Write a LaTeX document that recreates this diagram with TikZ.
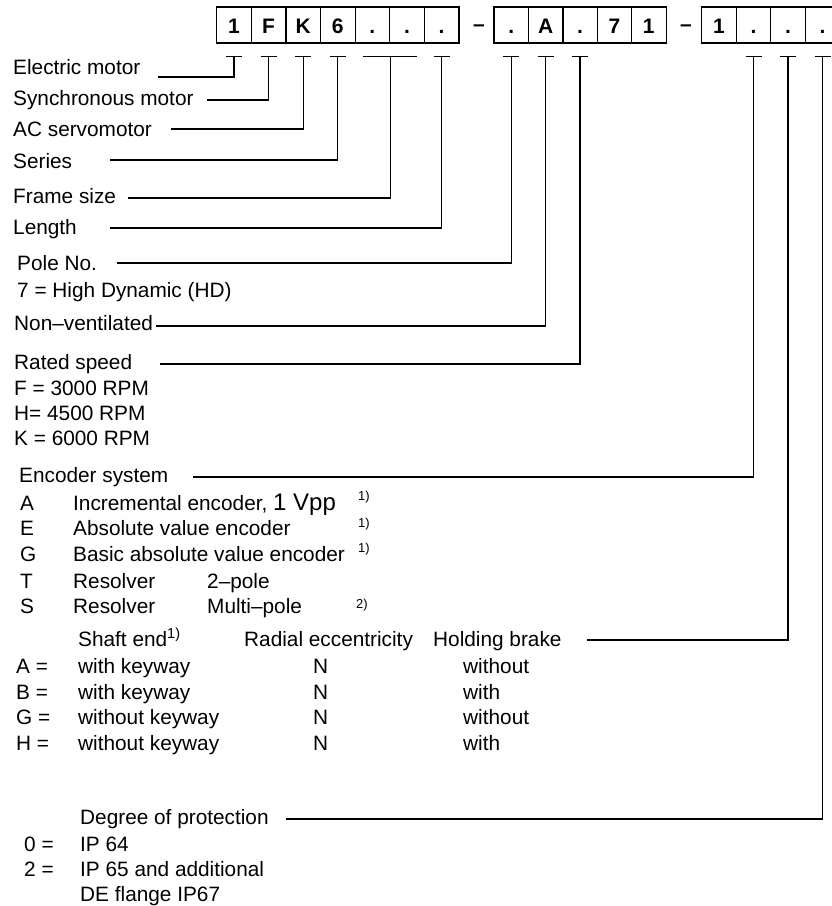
\documentclass[tikz,border=0pt]{standalone}
\usepackage{fontspec}
\setmainfont{Liberation Sans}
\usetikzlibrary{arrows.meta}
\tikzset{
  lbl/.style={anchor=base west,inner sep=0pt,font=\fontsize{20.8pt}{24pt}\selectfont},
  fnote/.style={anchor=base west,inner sep=0pt,font=\fontsize{13pt}{14pt}\selectfont},
  digit/.style={draw,line width=1.2pt,minimum width=34.6pt,minimum height=36pt,inner sep=0pt,
    text height=16pt,text depth=0pt,font=\fontsize{21pt}{24pt}\selectfont\bfseries},
  sepdash/.style={inner sep=0pt,font=\fontsize{21pt}{24pt}\selectfont\bfseries},
  lead/.style={line width=1.2pt,-{Bar[width=16pt]}},
}
\begin{document}
\begin{tikzpicture}[x=1pt,y=-1pt]
\useasboundingbox (0,0) rectangle (832,906);
\clip (0,0) rectangle (832,906);
% 型号方框, 第一组
\node[digit] (a1) at (234,25) {1};
\node[digit] (a2) at (268.6,25) {F};
\node[digit] (a3) at (303.2,25) {K};
\node[digit] (a4) at (337.8,25) {6};
\node[digit] (a5) at (372.4,25) {.};
\node[digit] (a6) at (407,25) {.};
\node[digit] (a7) at (441.6,25) {.};
\node[sepdash] (d1) at (479,28) {--};
% 第二组
\node[digit] (b1) at (511.2,25) {.};
\node[digit] (b2) at (545.6,25) {A};
\node[digit] (b3) at (580,25) {.};
\node[digit] (b4) at (614.4,25) {7};
\node[digit] (b5) at (648.8,25) {1};
\node[sepdash] (d2) at (686,28) {--};
% 第三组,最后一个被裁掉
\node[digit] (c1) at (719,25) {1};
\node[digit] (c2) at (753.5,25) {.};
\node[digit] (c3) at (788,25) {.};
\node[digit] (c4) at (822.5,25) {.};

% 左边的说明文字
\node[lbl] (em) at (13,74) {Electric motor};
\node[lbl] (sm) at (13,105) {Synchronous motor};
\node[lbl] (acs) at (13,136) {AC servomotor};
\node[lbl] (ser) at (13,168) {Series};
\node[lbl] (fsz) at (13,203) {Frame size};
\node[lbl] (len) at (13,234) {Length};
\node[lbl] (pole) at (17,270) {Pole No.};
\node[lbl] (hd) at (17,297) {7 = High Dynamic (HD)};
\node[lbl] (nv) at (14,330) {Non--ventilated};
\node[lbl] (rs) at (14,369) {Rated speed};
\node[lbl] (rsf) at (14,395) {F = 3000 RPM};
\node[lbl] (rsh) at (14,420) {H= 4500 RPM};
\node[lbl] (rsk) at (14,445) {K = 6000 RPM};

% 编码器
\node[lbl] (enc) at (19,482) {Encoder system};
\node[lbl] (encak) at (20,510) {A};
\node[lbl] (encat) at (73,510) {Incremental encoder, {\fontsize{24pt}{24pt}\selectfont 1 Vpp}};
\node[lbl] (encek) at (20,535) {E};
\node[lbl] (encet) at (73,535) {Absolute value encoder};
\node[lbl] (encgk) at (20,561) {G};
\node[lbl] (encgt) at (73,561) {Basic absolute value encoder};
\node[lbl] (enctk) at (20,588) {T};
\node[lbl] (enctt) at (73,588) {Resolver};
\node[lbl] (enctp) at (207,588) {2--pole};
\node[lbl] (encsk) at (20,613) {S};
\node[lbl] (encst) at (73,613) {Resolver};
\node[lbl] (encsp) at (207,613) {Multi--pole};
\node[fnote] (fna) at (358,500) {1)};
\node[fnote] (fne) at (358,527) {1)};
\node[fnote] (fng) at (358,552) {1)};
\node[fnote] (fns) at (356,608) {2)};

% 轴端和抱闸
\node[lbl] (sh) at (78,646) {Shaft end\textsuperscript{1)}};
\node[lbl] (rad) at (244,646) {Radial eccentricity};
\node[lbl] (hb) at (433,646) {Holding brake};
\node[lbl] (sha) at (16,673) {A =};
\node[lbl] (shat) at (78,673) {with keyway};
\node[lbl] (shan) at (313,673) {N};
\node[lbl] (shab) at (463,673) {without};
\node[lbl] (shb) at (16,699) {B =};
\node[lbl] (shbt) at (78,699) {with keyway};
\node[lbl] (shbn) at (313,699) {N};
\node[lbl] (shbb) at (463,699) {with};
\node[lbl] (shg) at (16,724) {G =};
\node[lbl] (shgt) at (78,724) {without keyway};
\node[lbl] (shgn) at (313,724) {N};
\node[lbl] (shgb) at (463,724) {without};
\node[lbl] (shh) at (16,750) {H =};
\node[lbl] (shht) at (78,750) {without keyway};
\node[lbl] (shhn) at (313,750) {N};
\node[lbl] (shhb) at (463,750) {with};

% 防护等级
\node[lbl] (dp) at (80,824) {Degree of protection};
\node[lbl] (dp0) at (24,851) {0 =};
\node[lbl] (dp0t) at (80,851) {IP 64};
\node[lbl] (dp2) at (24,876) {2 =};
\node[lbl] (dp2t) at (80,876) {IP 65 and additional};
\node[lbl] (dp2u) at (80,901) {DE flange IP67};

% 连线的起点
\coordinate (em-s) at (158,77);
\coordinate (sm-s) at (207,100);
\coordinate (acs-s) at (171,129);
\coordinate (ser-s) at (110,160);
\coordinate (fsz-s) at (128,198);
\coordinate (len-s) at (110,228);
\coordinate (pole-s) at (117,263);
\coordinate (nv-s) at (156,326);
\coordinate (rs-s) at (160,364);
\coordinate (enc-s) at (193,477);
\coordinate (hb-s) at (587,640);
\coordinate (dp-s) at (286,819);

% 连线,末端是T形
\draw[lead] (em-s) -| ([yshift=-12pt]a1.south);
\draw[lead] (sm-s) -| ([yshift=-12pt]a2.south);
\draw[lead] (acs-s) -| ([yshift=-12pt]a3.south);
\draw[lead] (ser-s) -| ([yshift=-12pt]a4.south);
\draw[lead,-{Bar[width=54pt]}] (fsz-s) -| ([yshift=-12pt]a5.south east);
\draw[lead] (len-s) -| ([yshift=-12pt]a7.south);
\draw[lead] (pole-s) -| ([yshift=-12pt]b1.south);
\draw[lead] (nv-s) -| ([yshift=-12pt]b2.south);
\draw[lead] (rs-s) -| ([yshift=-12pt]b3.south);
\draw[lead] (enc-s) -| ([yshift=-12pt]c2.south);
\draw[lead] (hb-s) -| ([yshift=-12pt]c3.south);
\draw[lead] (dp-s) -| ([yshift=-12pt]c4.south);
\end{tikzpicture}
\end{document}
